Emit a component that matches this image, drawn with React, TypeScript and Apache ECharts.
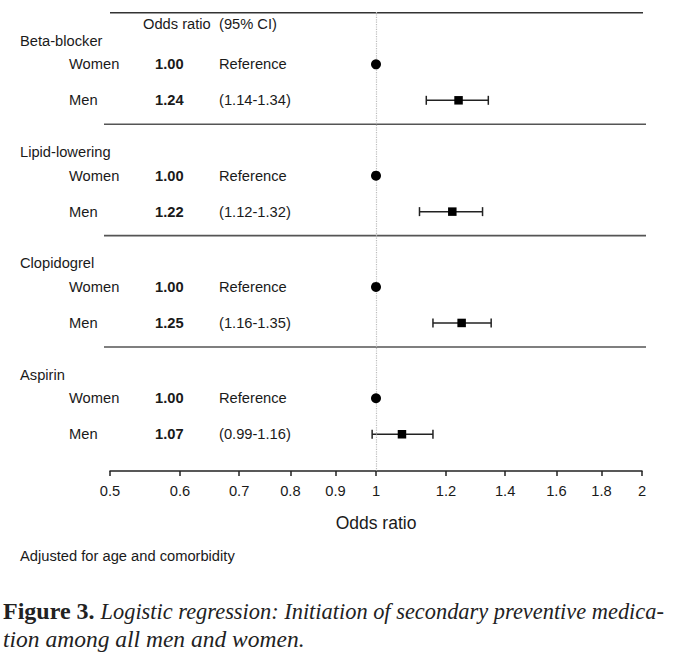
import React, { useEffect, useRef } from "react";
import * as echarts from "echarts";

// ---------- data ----------
const groups = ["Beta-blocker", "Lipid-lowering", "Clopidogrel", "Aspirin"];
const sexLabels = ["Women", "Men"];
const womenOR = [1.0, 1.0, 1.0, 1.0];
const womenText = ["Reference", "Reference", "Reference", "Reference"];
const menOR = [1.24, 1.22, 1.25, 1.07];
const menLow = [1.14, 1.12, 1.16, 0.99];
const menHigh = [1.34, 1.32, 1.35, 1.16];
const tickValues = [0.5, 0.6, 0.7, 0.8, 0.9, 1, 1.2, 1.4, 1.6, 1.8, 2];
const tickLabels = ["0.5", "0.6", "0.7", "0.8", "0.9", "1", "1.2", "1.4", "1.6", "1.8", "2"];
const headerLabels = ["Odds ratio", "(95% CI)"];
const axisTitle = "Odds ratio";
const footnote = "Adjusted for age and comorbidity";
const captionBold = "Figure 3.";
const captionLine1 = "Logistic regression: Initiation of secondary preventive medica-";
const captionLine2 = "tion among all men and women.";

// ---------- layout ----------
const W = 673;
const H = 657;
const FONT = '"Liberation Sans", Arial, Helvetica, sans-serif';
const SERIF = '"Liberation Serif", "Times New Roman", serif';
const INK = "#1a1a1a";
const TXT = 14.7;
const BLOCK = 3;
const HEADER_Y = 0.32;
const GROUP_Y = 0.77;
const WOMEN_Y = 1.41;
const MEN_Y = 2.38;
const Y_MAX = 12.37;

const lg = (v: number) => Math.log2(v);
const tickPos = tickValues.map(lg);
const labelFor = (v: number) => {
  const i = tickPos.findIndex((p) => Math.abs(p - v) < 1e-6);
  return i >= 0 ? tickLabels[i] : "";
};
const fmt2 = (v: number) => v.toFixed(2);

export default function App() {
  const ref = useRef<HTMLDivElement>(null);

  useEffect(() => {
    const chart = echarts.init(ref.current!, null, { renderer: "svg", width: W, height: H });

    const option: any = {
      animation: false,
      backgroundColor: "#ffffff",
      grid: { left: 110, right: W - 642, top: 12, bottom: H - 471, containLabel: false },
      xAxis: {
        type: "value",
        position: "bottom",
        min: -1,
        max: 1,
        axisLine: { show: true, onZero: false, lineStyle: { color: "#222", width: 1.5 } },
        axisTick: { show: true, inside: false, length: 5, customValues: tickPos, lineStyle: { color: "#222", width: 1.5 } },
        axisLabel: {
          show: true,
          customValues: tickPos,
          formatter: (v: number) => labelFor(v),
          margin: 12,
          fontSize: TXT,
          fontFamily: FONT,
          color: INK,
        },
        splitLine: { show: false },
        name: axisTitle,
        nameLocation: "middle",
        nameGap: 43,
        nameTextStyle: { fontSize: 17.5, fontFamily: FONT, color: INK },
      },
      yAxis: { type: "value", inverse: true, min: 0, max: Y_MAX, show: false },
      series: [
        {
          type: "scatter",
          name: "Women",
          symbol: "circle",
          symbolSize: 10,
          itemStyle: { color: "#000", opacity: 1 },
          data: womenOR.map((v, k) => [lg(v), k * BLOCK + WOMEN_Y]),
          markLine: {
            silent: true,
            symbol: "none",
            label: { show: false },
            lineStyle: { type: "dotted", color: "#bdbdbd", width: 1.2 },
            data: [{ xAxis: 0 }],
          },
          z: 5,
        },
        {
          type: "custom",
          name: "CI",
          encode: { x: [0, 1], y: 2 },
          data: menOR.map((_, k) => [lg(menLow[k]), lg(menHigh[k]), k * BLOCK + MEN_Y]),
          renderItem: (params: any, api: any) => {
            const lo = api.coord([api.value(0), api.value(2)]);
            const hi = api.coord([api.value(1), api.value(2)]);
            const cap = 4.5;
            const style = { stroke: "#222", lineWidth: 1.5, fill: "none" };
            return {
              type: "group",
              children: [
                { type: "line", shape: { x1: lo[0], y1: lo[1], x2: hi[0], y2: hi[1] }, style },
                { type: "line", shape: { x1: lo[0], y1: lo[1] - cap, x2: lo[0], y2: lo[1] + cap }, style },
                { type: "line", shape: { x1: hi[0], y1: hi[1] - cap, x2: hi[0], y2: hi[1] + cap }, style },
              ],
            };
          },
          z: 3,
        },
        {
          type: "scatter",
          name: "Men",
          symbol: "rect",
          symbolSize: 8.5,
          itemStyle: { color: "#000", opacity: 1 },
          data: menOR.map((v, k) => [lg(v), k * BLOCK + MEN_Y]),
          z: 6,
        },
      ],
    };
    chart.setOption(option);

    const py = (v: number) => (chart.convertToPixel({ gridIndex: 0 }, [0, v]) as number[])[1];
    const txt = (text: string, x: number, y: number, extra: any = {}) => ({
      type: "text",
      x,
      y,
      silent: true,
      style: {
        text,
        fill: INK,
        fontSize: TXT,
        fontFamily: FONT,
        align: "left",
        verticalAlign: "middle",
        ...extra,
      },
    });
    const hline = (x1: number, x2: number, y: number, color: string) => ({
      type: "line",
      silent: true,
      shape: { x1, y1: y, x2, y2: y },
      style: { stroke: color, lineWidth: 1.6 },
    });

    const els: any[] = [];
    els.push(hline(110, 643, py(0) + 0.7, "#333"));
    els.push(txt(headerLabels[0], 143, py(HEADER_Y)));
    els.push(txt(headerLabels[1], 219, py(HEADER_Y)));
    groups.forEach((g, k) => {
      const base = k * BLOCK;
      if (k > 0) els.push(hline(104, 646, py(base) + 1, "#555"));
      els.push(txt(g, 20, py(base + GROUP_Y)));
      els.push(txt(sexLabels[0], 69, py(base + WOMEN_Y)));
      els.push(txt(fmt2(womenOR[k]), 155, py(base + WOMEN_Y), { fontWeight: "bold" }));
      els.push(txt(womenText[k], 219, py(base + WOMEN_Y)));
      els.push(txt(sexLabels[1], 69, py(base + MEN_Y)));
      els.push(txt(fmt2(menOR[k]), 155, py(base + MEN_Y), { fontWeight: "bold" }));
      els.push(txt(`(${fmt2(menLow[k])}-${fmt2(menHigh[k])})`, 219, py(base + MEN_Y)));
    });
    els.push(txt(footnote, 20, 556));
    els.push({
      type: "text",
      x: 3,
      y: 611,
      silent: true,
      style: {
        text: `{b|${captionBold} }{i|${captionLine1}}`,
        fill: "#222",
        verticalAlign: "middle",
        align: "left",
        rich: {
          b: { fontFamily: SERIF, fontSize: 24, fontWeight: "bold", fill: "#222" },
          i: { fontFamily: SERIF, fontSize: 22.4, fontStyle: "italic", fill: "#222" },
        },
      },
    });
    els.push({
      type: "text",
      x: 3,
      y: 639,
      silent: true,
      style: {
        text: captionLine2,
        fill: "#222",
        fontFamily: SERIF,
        fontSize: 23.5,
        fontStyle: "italic",
        verticalAlign: "middle",
        align: "left",
      },
    });
    chart.setOption({ graphic: els });

    return () => chart.dispose();
  }, []);

  return (
    <div
      ref={ref}
      style={{ position: "fixed", left: 0, top: 0, width: W, height: H, background: "#fff" }}
    />
  );
}
